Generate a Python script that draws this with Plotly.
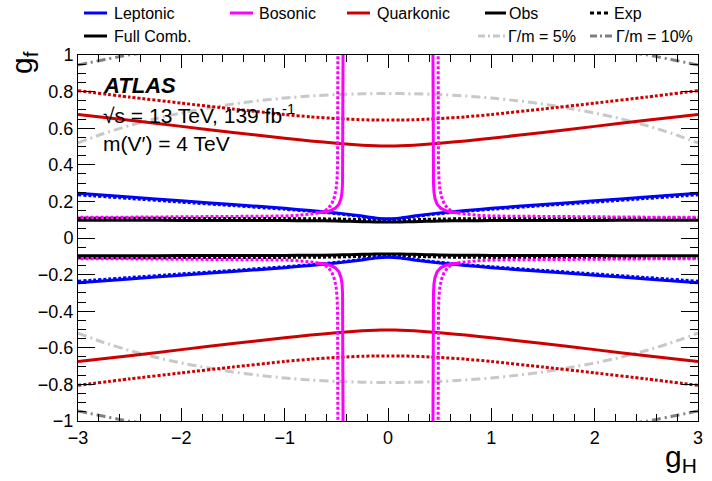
import plotly.graph_objects as go

# ---------------- data ----------------
gh_grid = [-3, -2.5, -2, -1.5, -1, -0.75, -0.5, -0.375, -0.25, -0.125, 0,
           0.125, 0.25, 0.375, 0.5, 0.75, 1, 1.5, 2, 2.5, 3]

quark_obs = [0.675, 0.643, 0.61, 0.577, 0.545, 0.53, 0.518, 0.512, 0.507, 0.504, 0.503,
             0.504, 0.507, 0.512, 0.518, 0.53, 0.545, 0.577, 0.61, 0.643, 0.675]
quark_exp = [0.805, 0.77, 0.737, 0.705, 0.675, 0.662, 0.653, 0.649, 0.646, 0.645, 0.645,
             0.645, 0.646, 0.649, 0.653, 0.662, 0.675, 0.705, 0.737, 0.77, 0.805]
lep_obs = [0.245, 0.224, 0.203, 0.183, 0.162, 0.15, 0.137, 0.129, 0.12, 0.11, 0.105,
           0.11, 0.12, 0.129, 0.137, 0.15, 0.162, 0.183, 0.203, 0.224, 0.245]
lep_exp = [0.236, 0.216, 0.196, 0.177, 0.157, 0.146, 0.133, 0.125, 0.116, 0.107, 0.102,
           0.107, 0.116, 0.125, 0.133, 0.146, 0.157, 0.177, 0.196, 0.216, 0.236]
comb_obs = [0.097, 0.097, 0.096, 0.096, 0.095, 0.094, 0.093, 0.091, 0.089, 0.088, 0.087,
            0.088, 0.089, 0.091, 0.093, 0.094, 0.095, 0.096, 0.096, 0.097, 0.097]
comb_exp = [0.108, 0.108, 0.107, 0.107, 0.106, 0.105, 0.104, 0.102, 0.1, 0.098, 0.097,
            0.098, 0.1, 0.102, 0.104, 0.105, 0.106, 0.107, 0.107, 0.108, 0.108]

# Bosonic contour, upper-left branch (mirrored to the other quadrants)
bos_obs_gh = [-0.435, -0.435, -0.437, -0.44, -0.445, -0.455, -0.475, -0.51, -0.56, -0.62, -0.7]
bos_obs_gf = [1.02, 0.7, 0.45, 0.3, 0.25, 0.215, 0.185, 0.163, 0.149, 0.141, 0.136]
bos_exp_gh = [-0.485, -0.485, -0.488, -0.493, -0.503, -0.518, -0.545, -0.585, -0.64, -0.72, -0.85, -1.0, -1.5, -2.0, -2.5, -3.0]
bos_exp_gf = [1.02, 0.6, 0.4, 0.32, 0.265, 0.225, 0.185, 0.158, 0.142, 0.133, 0.125, 0.12, 0.117, 0.115, 0.114, 0.113]

# Width contours
w5_gh = [-3, -2.75, -2.5, -2.25, -2, -1.75, -1.5, -1.25, -1, -0.75, -0.5, -0.25, 0,
         0.25, 0.5, 0.75, 1, 1.25, 1.5, 1.75, 2, 2.25, 2.5, 2.75, 3]
w5_gf = [0.52, 0.571, 0.615, 0.652, 0.683, 0.709, 0.732, 0.75, 0.765, 0.776, 0.784, 0.788, 0.79,
         0.788, 0.784, 0.776, 0.765, 0.75, 0.732, 0.709, 0.683, 0.652, 0.615, 0.571, 0.52]
w10_gh = [-3, -2.9, -2.8, -2.7, -2.6, -2.5, -2.4]
w10_gf = [0.945, 0.957, 0.969, 0.98, 0.991, 1.001, 1.01]

x_ticks = [-3, -2, -1, 0, 1, 2, 3]
y_ticks = [-1, -0.8, -0.6, -0.4, -0.2, 0, 0.2, 0.4, 0.6, 0.8, 1]

# ---------------- helpers ----------------
def mirror_y(xs, ys):
    return list(xs) + [None] + list(xs), list(ys) + [None] + [-v for v in ys]

def four_quadrants(xs, ys):
    X, Y = [], []
    for sx in (1, -1):
        for sy in (1, -1):
            X += [sx * v for v in xs] + [None]
            Y += [sy * v for v in ys] + [None]
    return X, Y

BLUE = "#0000ff"
MAG = "#ff00ff"
RED = "#cc0000"
GREY5 = "#c8c8c8"
GREY10 = "#808080"
DOT = "3px,2px"
DASHDOT = "9px,4px,2px,4px"
FONT = "Liberation Sans, Arial, Helvetica, sans-serif"

fig = go.Figure()

def add(xs, ys, color, dash="solid", width=3, shape="spline"):
    line = dict(color=color, width=width, dash=dash, shape=shape)
    if shape == "spline":
        line["smoothing"] = 0.6
    fig.add_trace(go.Scatter(x=xs, y=ys, mode="lines", showlegend=False,
                             line=line, hoverinfo="skip"))

x10, y10 = four_quadrants(w10_gh, w10_gf)
add(x10, y10, GREY10, DASHDOT)
x5, y5 = mirror_y(w5_gh, w5_gf)
add(x5, y5, GREY5, DASHDOT)

x, y = mirror_y(gh_grid, quark_exp); add(x, y, RED, DOT)
x, y = mirror_y(gh_grid, quark_obs); add(x, y, RED)
x, y = mirror_y(gh_grid, comb_exp); add(x, y, "black", DOT)
x, y = mirror_y(gh_grid, comb_obs); add(x, y, "black")
x, y = mirror_y(gh_grid, lep_exp); add(x, y, BLUE, DOT)
x, y = mirror_y(gh_grid, lep_obs); add(x, y, BLUE)
x, y = four_quadrants(bos_exp_gh, bos_exp_gf); add(x, y, MAG, DOT, shape="linear")
x, y = four_quadrants(bos_obs_gh, bos_obs_gf); add(x, y, MAG, shape="linear")

# ---------------- layout ----------------
W, H = 712, 481
L, R, T, B = 78, 14, 55, 60
PW, PH = W - L - R, H - T - B

def px(xp):
    return (xp - L) / PW

def py(yp):
    return (H - B - yp) / PH

shapes = []
annotations = []

def legend_item(x0, x1, ytxt, xtxt, color, dash, text):
    shapes.append(dict(type="line", xref="paper", yref="paper",
                       x0=px(x0), x1=px(x1), y0=py(ytxt), y1=py(ytxt),
                       line=dict(color=color, width=3, dash=dash)))
    annotations.append(dict(xref="paper", yref="paper", x=px(xtxt), y=py(ytxt),
                            xanchor="left", yanchor="middle", showarrow=False,
                            text=text, font=dict(size=16, color="black", family=FONT)))

legend_item(84, 107, 13, 112, BLUE, "solid", "Leptonic")
legend_item(230, 253, 13, 257, MAG, "solid", "Bosonic")
legend_item(347, 370, 13, 375, RED, "solid", "Quarkonic")
legend_item(485, 506, 13, 507, "black", "solid", "Obs")
legend_item(590, 611, 13, 612, "black", "4px,3px", "Exp")
legend_item(84, 107, 36, 112, "black", "solid", "Full Comb.")
legend_item(478, 505, 36, 506, GREY5, "7px,3px,2px,3px", "Γ/m = 5%")
legend_item(590, 613, 36, 614, GREY10, "7px,3px,2px,3px", "Γ/m = 10%")

def text_at(xp, yp, text, size, anchor="left", angle=0, yanchor="middle"):
    annotations.append(dict(xref="paper", yref="paper", x=px(xp), y=py(yp),
                            xanchor=anchor, yanchor=yanchor, showarrow=False,
                            textangle=angle, text=text,
                            font=dict(size=size, color="black", family=FONT)))

text_at(101, 85, "<b><i>ATLAS</i></b>", 22)
text_at(101, 114, "√s = 13 TeV, 139 fb<sup>-1</sup>", 21)
text_at(101, 143, "m(V′) = 4 TeV", 21)
text_at(23, 63, "g<sub>f</sub>", 30, anchor="center", angle=-90)
text_at(699, 458, "g<sub>H</sub>", 30, anchor="right")

fig.update_layout(
    width=W, height=H,
    margin=dict(l=L, r=R, t=T, b=B, pad=0),
    paper_bgcolor="white", plot_bgcolor="white",
    showlegend=False,
    font=dict(family=FONT, size=18, color="black"),
    shapes=shapes, annotations=annotations,
    xaxis=dict(range=[-3, 3], tickmode="array", tickvals=x_ticks,
               ticks="inside", ticklen=13, tickwidth=1, tickcolor="black",
               minor=dict(dtick=0.2, tick0=-3, ticks="inside", ticklen=7, tickwidth=1, tickcolor="black"),
               showline=True, linecolor="black", linewidth=1, mirror="ticks",
               showgrid=False, zeroline=False, automargin=False,
               tickfont=dict(size=18, family=FONT)),
    yaxis=dict(range=[-1, 1], tickmode="array", tickvals=y_ticks,
               ticktext=[("−" if v < 0 else "") + ("%g" % abs(v)) for v in y_ticks],
               ticks="inside", ticklen=17, tickwidth=1, tickcolor="black",
               minor=dict(dtick=0.05, tick0=-1, ticks="inside", ticklen=8, tickwidth=1, tickcolor="black"),
               showline=True, linecolor="black", linewidth=1, mirror="ticks",
               showgrid=False, zeroline=False, automargin=False,
               tickfont=dict(size=18, family=FONT)),
)

fig.write_html("out.html", config={"displayModeBar": False},
               post_script="document.body.style.margin='0px';document.body.style.overflow='hidden';")
